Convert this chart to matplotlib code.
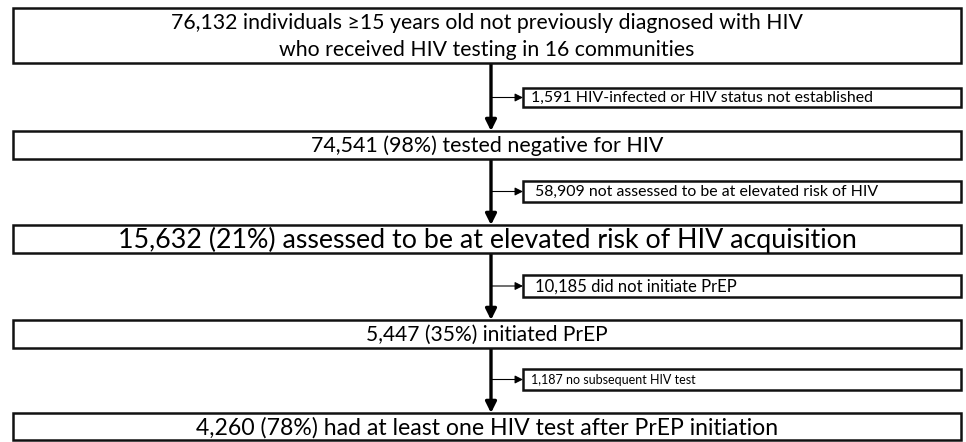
#!/usr/bin/env python3
"""Flow chart: HIV testing -> PrEP initiation cascade in 16 communities."""

import matplotlib
matplotlib.use("Agg")
import matplotlib.pyplot as plt
import matplotlib.patches as patches

# --- data ---
main_counts = [76132, 74541, 15632, 5447, 4260]
main_pcts = [None, 98, 21, 35, 78]
main_labels = [
    "individuals \u226515 years old not previously diagnosed with HIV\n"
    "who received HIV testing in 16 communities",
    "tested negative for HIV",
    "assessed to be at elevated risk of HIV acquisition",
    "initiated PrEP",
    "had at least one HIV test after PrEP initiation",
]
excluded_counts = [1591, 58909, 10185, 1187]
excluded_labels = [
    "HIV-infected or HIV status not established",
    "not assessed to be at elevated risk of HIV",
    "did not initiate PrEP",
    "no subsequent HIV test",
]

# --- layout (pixels, y down) ---
W, H = 966, 442
BOX_X0, BOX_X1 = 13, 961
MAIN_Y = [(8, 63), (131, 159), (225, 253), (320, 348), (413, 440)]
SIDE_X0 = 523
SIDE_Y = [(88, 107), (181, 202), (275, 297), (369, 390)]
STEM_X = 491
MAIN_SIZE = [15.3, 15.4, 19.3, 15.1, 16.6]
SIDE_SIZE = [11.4, 11.4, 12.0, 9.0]
SIDE_PAD = [8, 12, 12, 8]

FONT = ["Lato", "DejaVu Sans"]

fig = plt.figure(figsize=(W / 100, H / 100), dpi=100)
ax = fig.add_axes([0, 0, 1, 1])
ax.set_xlim(0, W)
ax.set_ylim(H, 0)
ax.axis("off")


def box(x0, y0, x1, y1):
    ax.add_patch(patches.Rectangle((x0, y0), x1 - x0, y1 - y0, linewidth=1.8,
                                   edgecolor="#111111", facecolor="white",
                                   zorder=2))


for i, (y0, y1) in enumerate(MAIN_Y):
    box(BOX_X0, y0, BOX_X1, y1)
    n, pct = main_counts[i], main_pcts[i]
    if pct is None:
        lines = main_labels[i].split("\n")
        text = f"{n:,} {lines[0]}\n{lines[1]}"
    else:
        text = f"{n:,} ({pct}%) {main_labels[i]}"
    ax.text((BOX_X0 + BOX_X1) / 2, (y0 + y1) / 2 + 1, text,
            ha="center", va="center", fontsize=MAIN_SIZE[i],
            family=FONT, linespacing=1.38, zorder=3)

# main stem arrows between boxes
for i in range(len(MAIN_Y) - 1):
    ax.annotate("", xy=(STEM_X, MAIN_Y[i + 1][0]), xytext=(STEM_X, MAIN_Y[i][1]),
                arrowprops=dict(arrowstyle="-|>", lw=2.4, color="black",
                                mutation_scale=16, shrinkA=0, shrinkB=0),
                zorder=1)

# excluded side boxes
for i, (y0, y1) in enumerate(SIDE_Y):
    box(SIDE_X0, y0, BOX_X1, y1)
    ym = (y0 + y1) / 2
    ax.annotate("", xy=(SIDE_X0, ym), xytext=(STEM_X, ym),
                arrowprops=dict(arrowstyle="-|>", lw=0.8, color="black",
                                mutation_scale=12, shrinkA=0, shrinkB=0),
                zorder=1)
    ax.text(SIDE_X0 + SIDE_PAD[i], ym + 0.5,
            f"{excluded_counts[i]:,} {excluded_labels[i]}",
            ha="left", va="center", fontsize=SIDE_SIZE[i],
            family=FONT, zorder=3)

fig.savefig("out.png", dpi=100, facecolor="white")
